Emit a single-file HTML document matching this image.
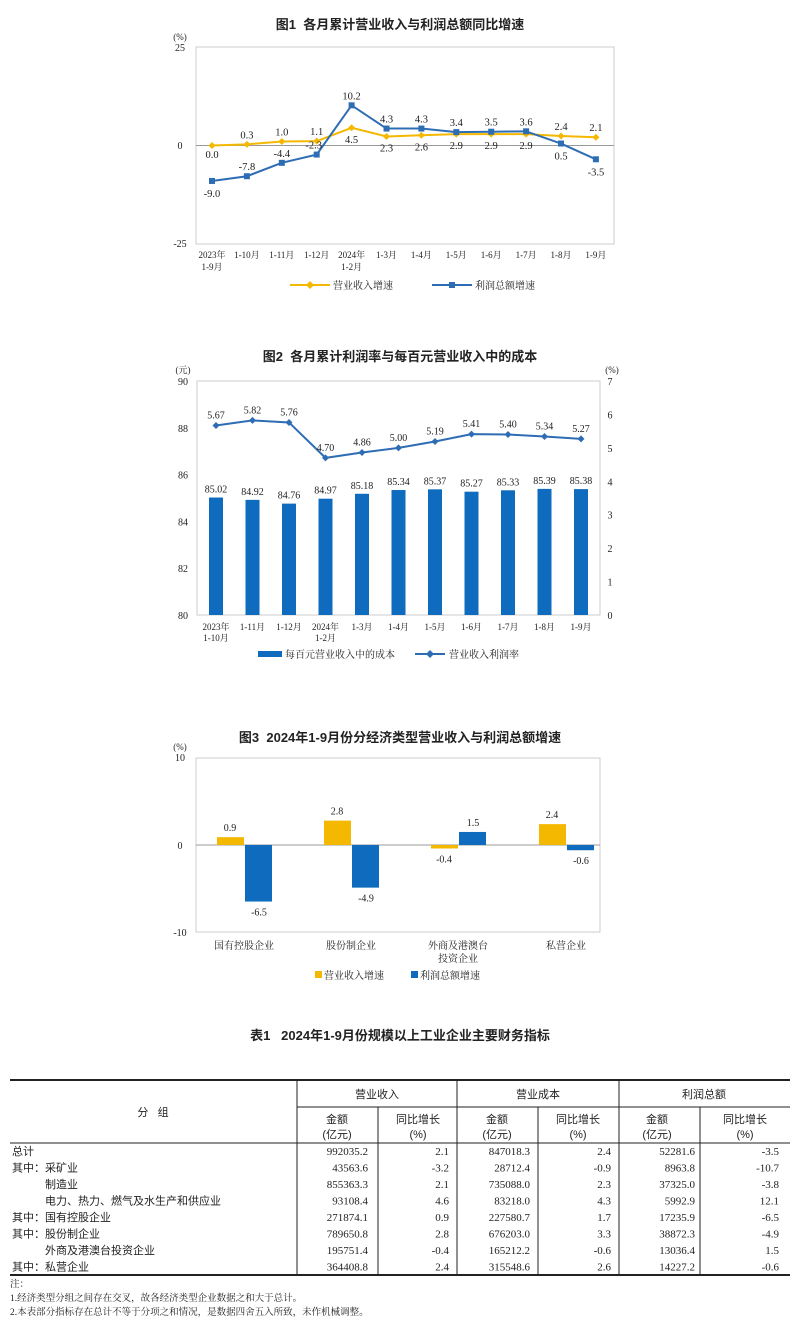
<!DOCTYPE html>
<html><head><meta charset="utf-8"><style>
body{margin:0;background:#fff;width:800px;height:1326px;overflow:hidden}
svg text{font-family:"Liberation Serif","Noto Serif CJK SC",serif;fill:#222}
.b{font-family:"Liberation Sans","Noto Sans CJK SC",sans-serif;font-weight:bold}
.s{font-family:"Liberation Sans","Noto Sans CJK SC",sans-serif}
</style></head><body>
<svg id="g" width="800" height="1326" xmlns="http://www.w3.org/2000/svg"></svg>
<script>
const g=document.getElementById('g');let h='';
const T=(x,y,t,o={})=>{h+=`<text x="${x}" y="${y}" font-size="${o.fs||10}" text-anchor="${o.a||'middle'}" class="${o.c||''}" ${o.f?'fill="'+o.f+'"':''}>${t}</text>`};
const L=(x1,y1,x2,y2,c='#999',w=1)=>{h+=`<line x1="${x1}" y1="${y1}" x2="${x2}" y2="${y2}" stroke="${c}" stroke-width="${w}"/>`};
const R=(x,y,w,hh,c,s='none')=>{h+=`<rect x="${x}" y="${y}" width="${w}" height="${hh}" fill="${c}" stroke="${s}"/>`};
const OR='#F5B800',BL='#2E6DB4',BB='#0E6BBE';
// Chart1
T(400,29,'图1&#160;&#160;各月累计营业收入与利润总额同比增速',{fs:13,c:'b'});
R(196,47,418,197,'none','#ccc');
T(180,40,'(%)',{fs:9});T(180,51,'25',{fs:10});T(180,149,'0',{fs:10});T(180,247,'-25',{fs:10});
L(196,145.5,614,145.5,'#999');
const y1=v=>145.5-v*3.94,x1=i=>212+i*34.9;
const o1=[0,0.3,1.0,1.1,4.5,2.3,2.6,2.9,2.9,2.9,2.4,2.1],b1=[-9,-7.8,-4.4,-2.3,10.2,4.3,4.3,3.4,3.5,3.6,0.5,-3.5];
h+=`<polyline fill="none" stroke="${OR}" stroke-width="2" points="${o1.map((v,i)=>x1(i)+','+y1(v)).join(' ')}"/>`;
h+=`<polyline fill="none" stroke="${BL}" stroke-width="2" points="${b1.map((v,i)=>x1(i)+','+y1(v)).join(' ')}"/>`;
o1.forEach((v,i)=>{h+=`<path d="M${x1(i)-3.5} ${y1(v)}L${x1(i)} ${y1(v)-3.5}L${x1(i)+3.5} ${y1(v)}L${x1(i)} ${y1(v)+3.5}Z" fill="${OR}"/>`;
 const up=(i>=1&&i<=3)||i>=10;T(x1(i),up?y1(v)-6:(i==0?158:y1(v)+15),v.toFixed(1),{fs:10.5});});
b1.forEach((v,i)=>{R(x1(i)-3,y1(v)-3,6,6,BL);const up=i>=1&&i<=9;T(x1(i)+(i==3?-3:0),up?y1(v)-6:y1(v)+16,v.toFixed(1),{fs:10.5});});
const c1=['2023年','1-10月','1-11月','1-12月','2024年','1-3月','1-4月','1-5月','1-6月','1-7月','1-8月','1-9月'];
c1.forEach((t,i)=>T(x1(i),258,t,{fs:9}));T(x1(0),270,'1-9月',{fs:9});T(x1(4),270,'1-2月',{fs:9});
L(290,285,330,285,OR,2);h+=`<path d="M306 285l4-4 4 4-4 4z" fill="${OR}"/>`;T(333,289,'营业收入增速',{fs:10,a:'start'});
L(432,285,472,285,BL,2);R(449,282,6,6,BL);T(475,289,'利润总额增速',{fs:10,a:'start'});
// Chart2
T(400,361,'图2&#160;&#160;各月累计利润率与每百元营业收入中的成本',{fs:13,c:'b'});
R(197,381,403,234,'none','#ccc');
const yl=v=>615-(v-80)*23.4,yr=v=>615-v*33.43,x2=i=>216+i*36.5;
T(183,373,'(元)',{fs:9});T(612,373,'(%)',{fs:9});
[80,82,84,86,88,90].forEach(v=>T(183,yl(v)+4,v,{fs:10}));
[0,1,2,3,4,5,6,7].forEach(v=>T(610,yr(v)+4,v,{fs:10}));
const bars=[85.02,84.92,84.76,84.97,85.18,85.34,85.37,85.27,85.33,85.39,85.38],ln=[5.67,5.82,5.76,4.70,4.86,5.00,5.19,5.41,5.40,5.34,5.27];
bars.forEach((v,i)=>{R(x2(i)-7,yl(v),14,615-yl(v),BB);T(x2(i),yl(v)-5,v.toFixed(2),{fs:10});});
h+=`<polyline fill="none" stroke="${BL}" stroke-width="2" points="${ln.map((v,i)=>x2(i)+','+yr(v)).join(' ')}"/>`;
ln.forEach((v,i)=>{h+=`<path d="M${x2(i)-3.5} ${yr(v)}L${x2(i)} ${yr(v)-3.5}L${x2(i)+3.5} ${yr(v)}L${x2(i)} ${yr(v)+3.5}Z" fill="${BL}"/>`;T(x2(i),yr(v)-7,v.toFixed(2),{fs:10});});
const c2=['2023年','1-11月','1-12月','2024年','1-3月','1-4月','1-5月','1-6月','1-7月','1-8月','1-9月'];
c2.forEach((t,i)=>T(x2(i),630,t,{fs:9}));T(x2(0),641,'1-10月',{fs:9});T(x2(3),641,'1-2月',{fs:9});
R(258,651,24,6,BB);T(285,658,'每百元营业收入中的成本',{fs:10,a:'start'});
L(415,654,445,654,BL,2);h+=`<path d="M426 654l4-4 4 4-4 4z" fill="${BL}"/>`;T(449,658,'营业收入利润率',{fs:10,a:'start'});
// Chart3
T(400,742,'图3&#160;&#160;2024年1-9月份分经济类型营业收入与利润总额增速',{fs:13,c:'b'});
R(196,758,404,174,'none','#ccc');
const y3=v=>845-v*8.7;
T(180,750,'(%)',{fs:9});T(180,761,'10',{fs:10});T(180,849,'0',{fs:10});T(180,936,'-10',{fs:10});
L(196,845,600,845,'#999');
const o3=[0.9,2.8,-0.4,2.4],b3=[-6.5,-4.9,1.5,-0.6],cx=[244,351,458,566];
cx.forEach((c,i)=>{const a=o3[i],b=b3[i];
R(c-27,Math.min(y3(a),845),27,Math.abs(a*8.7),OR);R(c+1,Math.min(y3(b),845),27,Math.abs(b*8.7),BB);
T(c-14,a>0?y3(a)-6:y3(a)+14,a.toFixed(1),{fs:10});T(c+15,b>0?y3(b)-6:y3(b)+14,b.toFixed(1),{fs:10});});
['国有控股企业','股份制企业','外商及港澳台','私营企业'].forEach((t,i)=>T(cx[i],949,t,{fs:10}));T(cx[2],962,'投资企业',{fs:10});
R(315,971,7,7,OR);T(324,979,'营业收入增速',{fs:10,a:'start'});
R(411,971,7,7,BB);T(420,979,'利润总额增速',{fs:10,a:'start'});
// Table
T(400,1040,'表1&#160;&#160;&#160;2024年1-9月份规模以上工业企业主要财务指标',{fs:13,c:'b'});
L(10,1080,790,1080,'#222',2);L(10,1143,790,1143,'#222',1);L(10,1275,790,1275,'#222',2);
L(297,1107,790,1107,'#222',1);
[297,457,619].forEach(x=>L(x,1080,x,1275,'#222',1));[378,538,700].forEach(x=>L(x,1107,x,1275,'#222',1));
T(153,1116,'分&#160;&#160;&#160;组',{fs:11,c:'s'});
[[377,'营业收入'],[538,'营业成本'],[704,'利润总额']].forEach(a=>T(a[0],1098,a[1],{fs:11,c:'s'}));
[297,457,619].forEach(x=>{T(x+(x==619?38:40),1123,'金额',{fs:11,c:'s'});T(x+(x==619?38:40),1138,'(亿元)',{fs:11,c:'s'});});
[378,538,700].forEach(x=>{T(x+(x==700?45:40),1123,'同比增长',{fs:11,c:'s'});T(x+(x==700?45:40),1138,'(%)',{fs:11,c:'s'});});
const rows=[['总计','992035.2','2.1','847018.3','2.4','52281.6','-3.5'],['其中：采矿业','43563.6','-3.2','28712.4','-0.9','8963.8','-10.7'],['　　　制造业','855363.3','2.1','735088.0','2.3','37325.0','-3.8'],['　　　电力、热力、燃气及水生产和供应业','93108.4','4.6','83218.0','4.3','5992.9','12.1'],['其中：国有控股企业','271874.1','0.9','227580.7','1.7','17235.9','-6.5'],['其中：股份制企业','789650.8','2.8','676203.0','3.3','38872.3','-4.9'],['　　　外商及港澳台投资企业','195751.4','-0.4','165212.2','-0.6','13036.4','1.5'],['其中：私营企业','364408.8','2.4','315548.6','2.6','14227.2','-0.6']];
const rx=[368,449,530,611,695,779];
rows.forEach((r,i)=>{const y=1155+i*16.5;T(12,y,r[0],{fs:11,a:'start',c:'s'});for(let j=1;j<7;j++)T(rx[j-1],y,r[j],{fs:11,a:'end'});});
T(10,1287,'注：',{fs:9.5,a:'start'});
T(10,1301,'1.经济类型分组之间存在交叉，故各经济类型企业数据之和大于总计。',{fs:9.5,a:'start'});
T(10,1315,'2.本表部分指标存在总计不等于分项之和情况，是数据四舍五入所致，未作机械调整。',{fs:9.5,a:'start'});
g.innerHTML=h;
</script>
</body></html>
